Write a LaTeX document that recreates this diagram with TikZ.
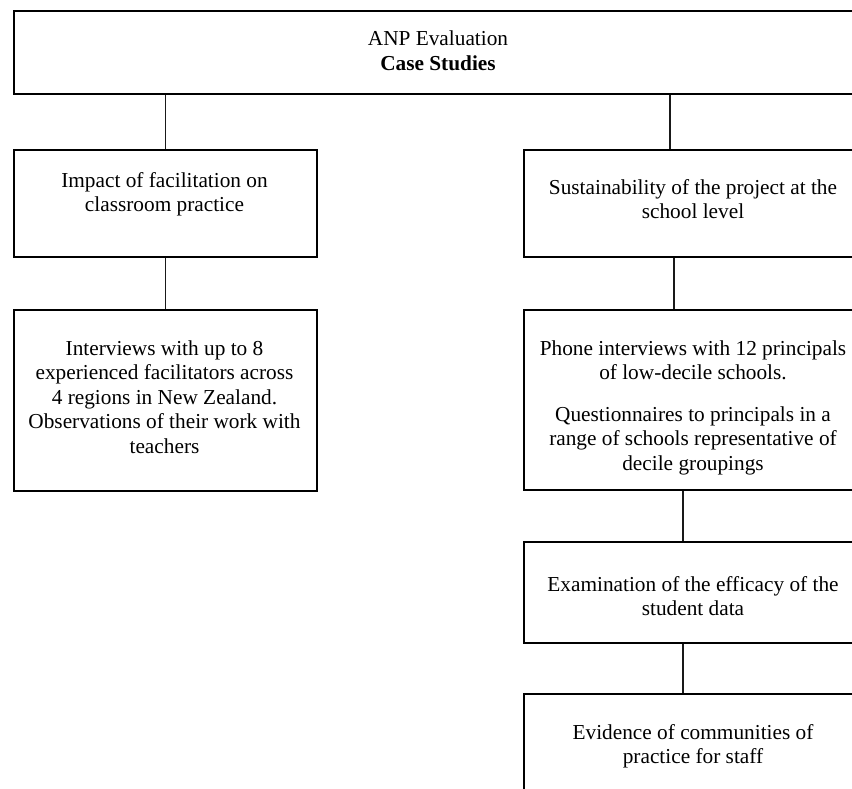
\documentclass[tikz,border=0pt]{standalone}
\usepackage{fontspec}
\setmainfont{Liberation Serif}
\begin{document}
\begin{tikzpicture}[x=1pt,y=-1pt,
  box/.style={draw=black, line width=2pt, rectangle, inner sep=0pt, anchor=north west},
  % text blocks are placed by the baseline of their last line
  txt/.style={inner sep=0pt, align=center, anchor=base,
              font=\fontsize{21.3}{24.5}\selectfont},
  conn/.style={draw=black!90, line width=1.5pt}]
\useasboundingbox (0,0) rectangle (852,789);
\clip (0,0) rectangle (852,789);

% top box
\node[box, minimum width=850pt, minimum height=83pt] (top) at (13,10) {};
\node[txt] (topt) at (438,70.5) {ANP Evaluation\\\textbf{Case Studies}};

% left column
\node[box, minimum width=303pt, minimum height=107pt] (L1) at (13,149) {};
\node[txt] (L1t) at (164.5,211.5) {Impact of facilitation on\\classroom practice};
\node[box, minimum width=303pt, minimum height=181pt] (L2) at (13,309) {};
\node[txt] (L2t) at (164.5,453) {Interviews with up to 8\\experienced facilitators across\\4 regions in New Zealand.\\Observations of their work with\\teachers};

% right column
\node[box, minimum width=340pt, minimum height=107pt] (R1) at (523,149) {};
\node[txt] (R1t) at (693,218.5) {Sustainability of the project at the\\school level};
\node[box, minimum width=340pt, minimum height=180pt] (R2) at (523,309) {};
\node[txt] (R2t) at (693,470) {Phone interviews with 12 principals\\of low-decile schools.\\[17pt]Questionnaires to principals in a\\range of schools representative of\\decile groupings};
\node[box, minimum width=340pt, minimum height=101pt] (R3) at (523,541) {};
\node[txt] (R3t) at (693,615.5) {Examination of the efficacy of the\\student data};
\node[box, minimum width=340pt, minimum height=120pt] (R4) at (523,693) {};
\node[txt] (R4t) at (693,763.5) {Evidence of communities of\\practice for staff};

% connectors
\draw[conn] (L1.north |- top.south) -- (L1.north);
\draw[conn] (L1.south) -- (L2.north);
\draw[conn] ([xshift=-24pt]R1.north |- top.south) -- ([xshift=-24pt]R1.north);
\draw[conn] ([xshift=-20pt]R1.south) -- ([xshift=-20pt]R2.north);
\draw[conn] ([xshift=-11pt]R2.south) -- ([xshift=-11pt]R3.north);
\draw[conn] ([xshift=-11pt]R3.south) -- ([xshift=-11pt]R4.north);
\end{tikzpicture}
\end{document}
